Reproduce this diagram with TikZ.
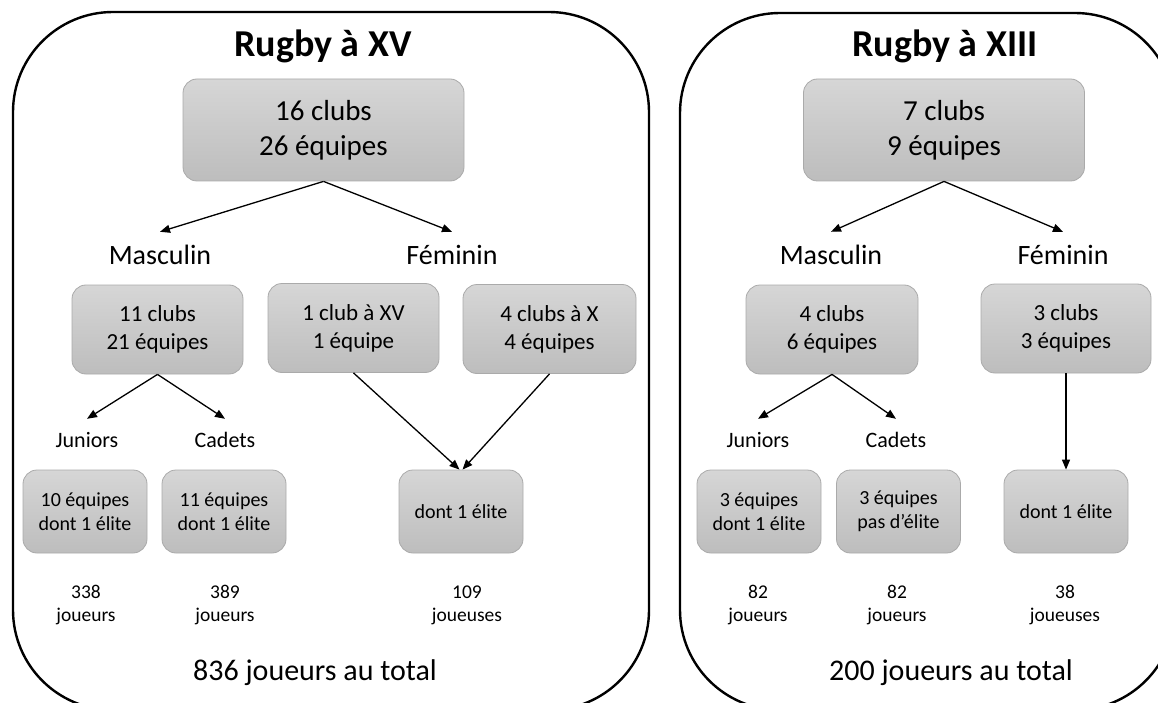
\documentclass[tikz,border=0pt]{standalone}
\usepackage{fontspec}
\setmainfont{Carlito}
\usetikzlibrary{arrows.meta}
\definecolor{boxtop}{RGB}{214,214,214}
\definecolor{boxbottom}{RGB}{189,189,189}
\definecolor{boxedge}{RGB}{170,170,170}

\begin{document}
\begin{tikzpicture}[x=1pt, y=-1pt,
    panel/.style={line width=2.4pt, rounded corners=100pt},
    title/.style={font=\fontsize{38}{45}\selectfont\bfseries, anchor=base},
    gbox/.style={draw=boxedge, line width=0.8pt, rounded corners=14pt,
      top color=boxtop, bottom color=boxbottom, align=center, inner sep=0pt},
    topbox/.style={gbox, minimum width=281pt, minimum height=102pt, font=\fontsize{29}{35}\selectfont},
    midbox/.style={gbox, minimum width=171pt, minimum height=89pt, font=\fontsize{23}{28}\selectfont},
    lowbox/.style={gbox, minimum width=124pt, minimum height=83pt, font=\fontsize{20}{24}\selectfont},
    sexlabel/.style={font=\fontsize{28}{34}\selectfont, anchor=base, inner xsep=0pt, inner ysep=15pt, text height=18pt},
    agelabel/.style={font=\fontsize{22}{26}\selectfont, anchor=base, inner xsep=0pt, inner ysep=14pt, text height=14pt},
    count/.style={font=\fontsize{19.5}{23}\selectfont, align=center},
    total/.style={font=\fontsize{30}{36}\selectfont, anchor=base},
    link/.style={line width=1.3pt, -{Triangle[length=10pt,width=8pt]}}]

  \useasboundingbox (0,0) rectangle (1158,703);

  % Panels
  \draw[panel] (13,12) rectangle (649,710);
  \draw[panel] (680,13) rectangle (1175,710);

  % Rugby a XV
  \node[title] (title15) at (323,57) {Rugby à XV};
  \node[topbox] (top15) at (323.5,130) {16 clubs\\26 équipes};
  \node[sexlabel] (masc15) at (160,265) {Masculin};
  \node[sexlabel] (fem15) at (452,265) {Féminin};
  \node[midbox] (m15) at (157.5,329.5) {11 clubs\\21 équipes};
  \node[midbox] (fa15) at (353.5,328) {1 club à XV\\1 équipe};
  \node[midbox, minimum width=173pt] (fb15) at (549.5,329) {4 clubs à X\\4 équipes};
  \node[agelabel] (jun15) at (87,447) {Juniors};
  \node[agelabel] (cad15) at (225,447) {Cadets};
  \node[lowbox] (j15) at (85,511.5) {10 équipes\\dont 1 élite};
  \node[lowbox] (c15) at (224,511.5) {11 équipes\\dont 1 élite};
  \node[lowbox] (fe15) at (461,511.5) {dont 1 élite};
  \node[count] (nj15) at (86,605) {338\\joueurs};
  \node[count] (nc15) at (225,605) {389\\joueurs};
  \node[count] (nf15) at (467,605) {109\\joueuses};
  \node[total] (tot15) at (315,680) {836 joueurs au total};

  \draw[link] (top15.south) -- (masc15.north);
  \draw[link] (top15.south) -- (fem15.north);
  \draw[link] (m15.south) -- (jun15.north);
  \draw[link] (m15.south) -- (cad15.north);
  \draw[link] (fa15.south) -- ([xshift=-1.5pt]fe15.north);
  \draw[link] (fb15.south) -- ([xshift=1.5pt]fe15.north);

  % Rugby a XIII
  \node[title] (title13) at (945,57) {Rugby à XIII};
  \node[topbox] (top13) at (944,130) {7 clubs\\9 équipes};
  \node[sexlabel] (masc13) at (831,265) {Masculin};
  \node[sexlabel] (fem13) at (1063,265) {Féminin};
  \node[midbox, minimum width=172pt] (m13) at (832,329.5) {4 clubs\\6 équipes};
  \node[midbox, minimum width=170pt] (f13) at (1066,328.5) {3 clubs\\3 équipes};
  \node[agelabel] (jun13) at (758,447) {Juniors};
  \node[agelabel] (cad13) at (896,447) {Cadets};
  \node[lowbox] (j13) at (759,511.5) {3 équipes\\dont 1 élite};
  \node[lowbox] (c13) at (898.5,511.5) {3 équipes\\pas d’élite};
  \node[lowbox] (fe13) at (1066,511.5) {dont 1 élite};
  \node[count] (nj13) at (758,605) {82\\joueurs};
  \node[count] (nc13) at (897,605) {82\\joueurs};
  \node[count] (nf13) at (1065,605) {38\\joueuses};
  \node[total] (tot13) at (951,680) {200 joueurs au total};

  \draw[link] (top13.south) -- (masc13.north);
  \draw[link] (top13.south) -- (fem13.north);
  \draw[link] (m13.south) -- (jun13.north);
  \draw[link] (m13.south) -- (cad13.north);
  \draw[link] (f13.south) -- (fe13.north);
\end{tikzpicture}
\end{document}
